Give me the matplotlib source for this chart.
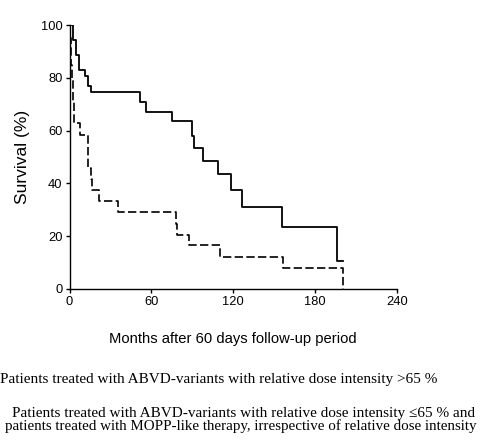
import matplotlib.pyplot as plt

# Kaplan-Meier style survival
high_months = [0, 2.3, 4.8, 6.7, 11.6, 13.3, 15.5, 51.7, 56.0, 74.9, 89.6, 91.0,
               97.8, 108.8, 118.1, 126.4, 155.5, 196.3, 200.2]
high_surv = [100, 94.5, 88.5, 83, 80.5, 77, 74.5, 71, 67, 63.5, 58, 53.5,
             48.5, 43.5, 37.5, 31, 23.5, 10.5, 10.5]

low_months = [0, 0.4, 0.8, 1.2, 1.6, 2.2, 3.3, 7.7, 13.3, 15.5, 16.5, 21.8,
              35.8, 78.0, 78.6, 87.6, 110.0, 156.7, 200.2]
low_surv = [100, 95, 90, 85, 79, 71, 63, 58.5, 46, 41.5, 37.5, 33.5,
            29, 24.5, 20.5, 16.5, 12, 8, 0]

x_ticks = [0, 60, 120, 180, 240]
y_ticks = [0, 20, 40, 60, 80, 100]

legend_high = "Patients treated with ABVD-variants with relative dose intensity >65 %"
legend_low_1 = "Patients treated with ABVD-variants with relative dose intensity \u226465 % and"
legend_low_2 = "patients treated with MOPP-like therapy, irrespective of relative dose intensity"


def main():
    fig = plt.figure(figsize=(4.82, 4.41), dpi=100)
    ax = fig.add_axes([0.1442, 0.3447, 0.6795, 0.5986])

    ax.step(high_months, high_surv, where="post", color="black", lw=1.3)
    ax.step(low_months, low_surv, where="post", color="black", lw=1.2,
            linestyle=(0, (5, 2)))

    ax.set_xlim(0, 240)
    ax.set_ylim(0, 100)
    ax.set_xticks(x_ticks)
    ax.set_yticks(y_ticks)
    for s in ["top", "right"]:
        ax.spines[s].set_visible(False)
    for s in ["left", "bottom"]:
        ax.spines[s].set_linewidth(1.0)
    ax.tick_params(labelsize=9.3, length=3, width=1.0, pad=2)
    for lab in ax.get_xticklabels() + ax.get_yticklabels():
        lab.set_family("Liberation Sans")

    ax.set_ylabel("Survival (%)", fontsize=12.5, family="Liberation Sans", labelpad=8)
    ax.set_xlabel("Months after 60 days follow-up period", fontsize=10.6,
                  family="Liberation Sans", labelpad=17)

    fig.text(0.0, 1 - 379 / 441, legend_high, fontsize=11,
             family="Liberation Serif", va="center")
    fig.text(12 / 482, 1 - 413 / 441, legend_low_1, fontsize=11,
             family="Liberation Serif", va="center")
    fig.text(5 / 482, 1 - 426 / 441, legend_low_2, fontsize=10.8,
             family="Liberation Serif", va="center")

    fig.savefig("out.png", dpi=100)


if __name__ == "__main__":
    main()
